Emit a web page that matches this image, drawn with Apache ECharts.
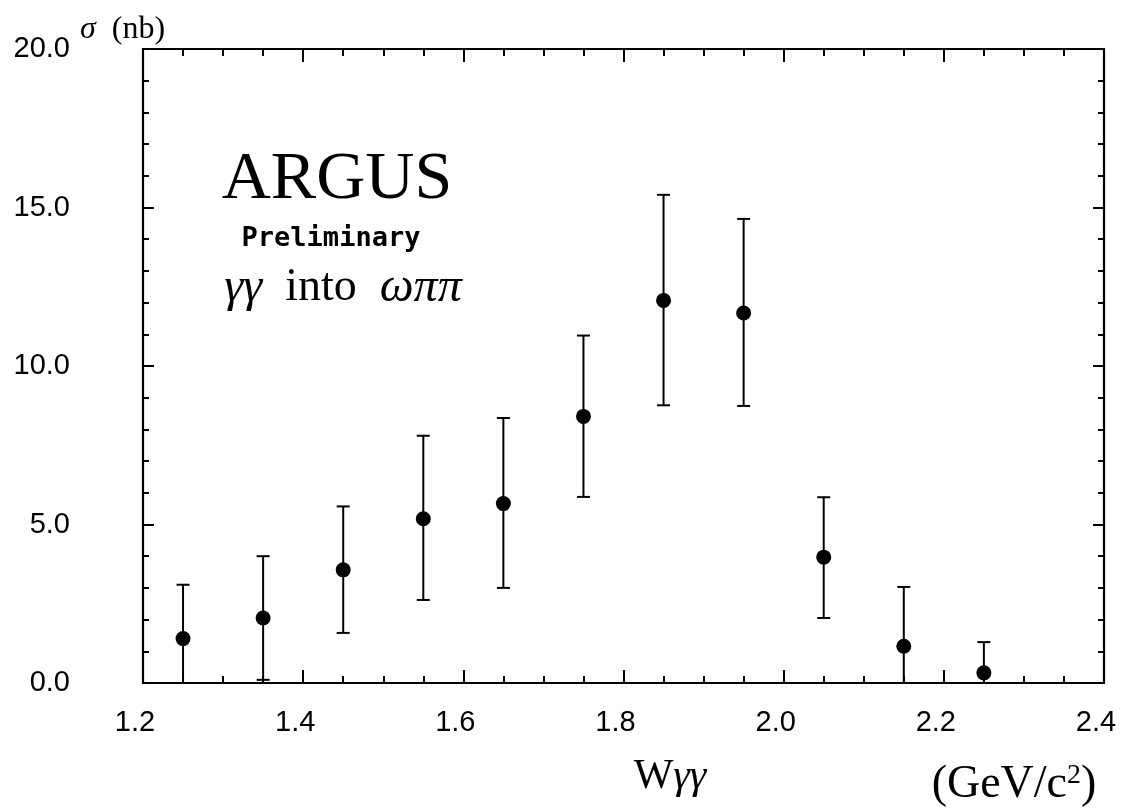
<!DOCTYPE html>
<html>
<head>
<meta charset="utf-8">
<script src="https://cdn.jsdelivr.net/npm/echarts@6/dist/echarts.min.js"></script>
<style>html,body{margin:0;padding:0;background:#fff;}#c{width:1131px;height:810px;}</style>
</head>
<body>
<div id="c"></div>
<script>
// W_gamma_gamma bin centres (GeV/c^2)
const wValues = [1.25, 1.35, 1.45, 1.55, 1.65, 1.75, 1.85, 1.95, 2.05, 2.15, 2.25];
// cross section sigma (nb)
const sigma = [1.40, 2.05, 3.57, 5.18, 5.66, 8.41, 12.07, 11.67, 3.97, 1.16, 0.32];
// error bar upper and lower ends (nb)
const errHigh = [3.10, 4.00, 5.57, 7.80, 8.36, 10.96, 15.40, 14.64, 5.86, 3.03, 1.29];
const errLow = [0.00, 0.10, 1.58, 2.62, 3.00, 5.87, 8.76, 8.74, 2.05, 0.00, 0.00];
// axis ranges
const xRange = [1.2, 2.4];
const yRange = [0, 20];

const chart = echarts.init(document.getElementById('c'), null, {renderer: 'canvas'});

const pointData = wValues.map((w, i) => [w, sigma[i]]);
const errData = wValues.map((w, i) => [w, errLow[i], errHigh[i]]);

const tickFont = '"Liberation Sans", Arial, sans-serif';
const serif = '"Liberation Serif", "Times New Roman", serif';
const axisLineStyle = {color: '#000', width: 2.2};

const option = {
  backgroundColor: '#fff',
  animation: false,
  grid: {left: 143, right: 27, top: 49, bottom: 127, containLabel: false},
  xAxis: [
    {
      type: 'value', min: xRange[0], max: xRange[1], interval: 0.2, position: 'bottom',
      axisLine: {show: true, onZero: false, lineStyle: axisLineStyle},
      axisTick: {show: true, inside: true, length: 13, lineStyle: {color: '#000', width: 2}},
      minorTick: {show: true, splitNumber: 4, length: 7, lineStyle: {color: '#000', width: 2}},
      splitLine: {show: false},
      axisLabel: {
        show: true, margin: 25, color: '#000', fontFamily: tickFont, fontSize: 29,
        padding: [0, 16, 0, 0],
        formatter: v => v.toFixed(1)
      }
    },
    {
      type: 'value', min: xRange[0], max: xRange[1], interval: 0.2, position: 'top',
      axisLine: {show: true, onZero: false, lineStyle: axisLineStyle},
      axisTick: {show: true, inside: true, length: 13, lineStyle: {color: '#000', width: 2}},
      minorTick: {show: true, splitNumber: 4, length: 7, lineStyle: {color: '#000', width: 2}},
      splitLine: {show: false},
      axisLabel: {show: false}
    }
  ],
  yAxis: [
    {
      type: 'value', min: yRange[0], max: yRange[1], interval: 5, position: 'left',
      axisLine: {show: true, onZero: false, lineStyle: axisLineStyle},
      axisTick: {show: true, inside: true, length: 11, lineStyle: {color: '#000', width: 2}},
      minorTick: {show: true, splitNumber: 5, length: 6, lineStyle: {color: '#000', width: 2}},
      splitLine: {show: false},
      axisLabel: {
        show: true, margin: 73, color: '#000', fontFamily: tickFont, fontSize: 29,
        formatter: v => v.toFixed(1)
      }
    },
    {
      type: 'value', min: yRange[0], max: yRange[1], interval: 5, position: 'right',
      axisLine: {show: true, onZero: false, lineStyle: axisLineStyle},
      axisTick: {show: true, inside: true, length: 11, lineStyle: {color: '#000', width: 2}},
      minorTick: {show: true, splitNumber: 5, length: 6, lineStyle: {color: '#000', width: 2}},
      splitLine: {show: false},
      axisLabel: {show: false}
    }
  ],
  series: [
    {
      type: 'custom',
      xAxisIndex: 0, yAxisIndex: 0,
      data: errData,
      clip: false,
      renderItem: function (params, api) {
        const x = api.value(0);
        const pHi = api.coord([x, api.value(2)]);
        const pLo = api.coord([x, api.value(1)]);
        const cap = 6.5;
        const st = {stroke: '#000', lineWidth: 2};
        return {
          type: 'group',
          children: [
            {type: 'line', shape: {x1: pHi[0], y1: pHi[1], x2: pLo[0], y2: pLo[1]}, style: st},
            {type: 'line', shape: {x1: pHi[0] - cap, y1: pHi[1], x2: pHi[0] + cap, y2: pHi[1]}, style: st},
            {type: 'line', shape: {x1: pLo[0] - cap, y1: pLo[1], x2: pLo[0] + cap, y2: pLo[1]}, style: st}
          ]
        };
      }
    },
    {
      type: 'scatter',
      xAxisIndex: 0, yAxisIndex: 0,
      data: pointData,
      symbol: 'circle',
      symbolSize: 15,
      itemStyle: {color: '#000', opacity: 1},
      z: 5
    }
  ],
  graphic: [
    {
      type: 'text', x: 80, y: 46,
      style: {
        text: '{i|σ}  (nb)', textVerticalAlign: 'bottom',
        font: '32px ' + serif, fill: '#000',
        rich: {i: {fontStyle: 'italic', fontFamily: serif, fontSize: 32}}
      }
    },
    {
      type: 'text', x: 337, y: 214,
      style: {text: 'ARGUS', textAlign: 'center', textVerticalAlign: 'bottom',
        font: '68px ' + serif, fill: '#000'}
    },
    {
      type: 'text', x: 331, y: 252,
      style: {text: 'Preliminary', textAlign: 'center', textVerticalAlign: 'bottom',
        font: 'bold 27px "DejaVu Sans Mono", monospace', fill: '#000'}
    },
    {
      type: 'text', x: 343, y: 312,
      style: {
        text: '{g|γγ}  into  {g|ωππ}', textAlign: 'center', textVerticalAlign: 'bottom',
        font: '46px ' + serif, fill: '#000',
        rich: {g: {fontStyle: 'italic', fontFamily: serif, fontSize: 48}}
      }
    },
    {
      type: 'text', x: 670, y: 798,
      style: {
        text: 'W{g|γγ}', textAlign: 'center', textVerticalAlign: 'bottom',
        font: '42px ' + serif, fill: '#000',
        rich: {g: {fontStyle: 'italic', fontFamily: serif, fontSize: 42}}
      }
    },
    {
      type: 'text', x: 1014, y: 808,
      style: {
        text: '(GeV/c{s|2})', textAlign: 'center', textVerticalAlign: 'bottom',
        font: '46px ' + serif, fill: '#000',
        rich: {s: {fontFamily: serif, fontSize: 28, verticalAlign: 'top', padding: [0, 0, 16, 0]}}
      }
    }
  ]
};
chart.setOption(option);
</script>
</body>
</html>
